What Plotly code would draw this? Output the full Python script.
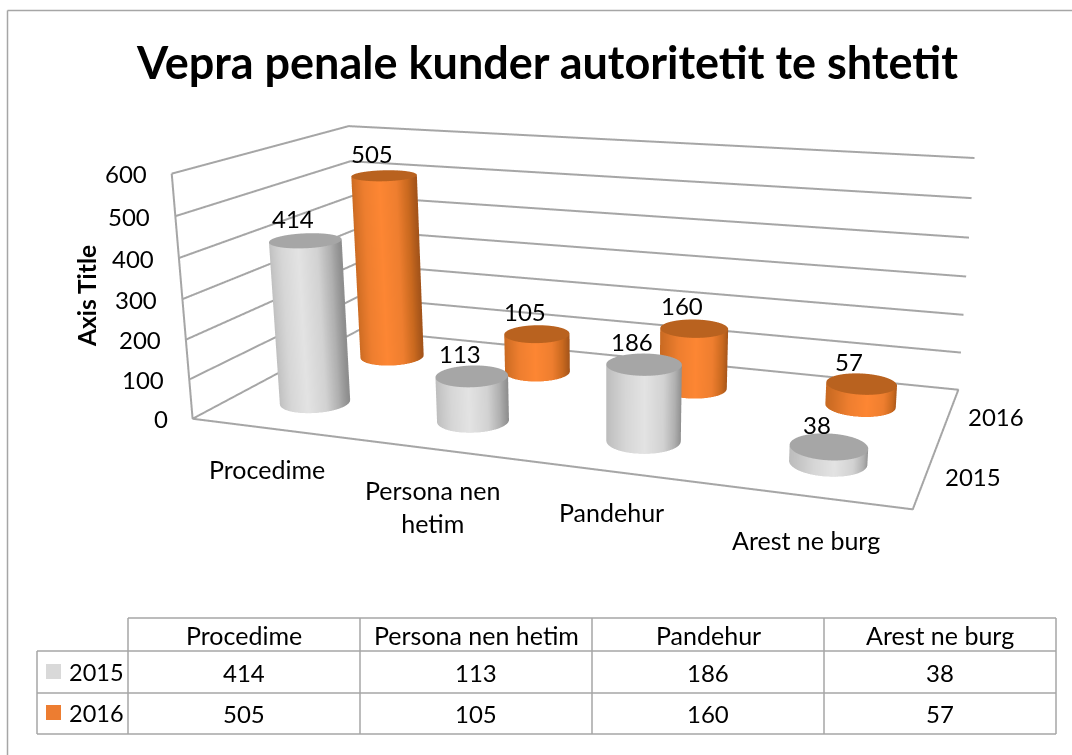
import numpy as np
import plotly.graph_objects as go

CATEGORIES = ["Procedime", "Persona nen hetim", "Pandehur", "Arest ne burg"]
AXIS_LABELS = ["Procedime", "Persona nen<br>hetim", "Pandehur", "Arest ne burg"]
SERIES = ["2015", "2016"]
VALUES_2015 = [414, 113, 186, 38]
VALUES_2016 = [505, 105, 160, 57]
Z_TICKS = [0, 100, 200, 300, 400, 500, 600]
TITLE = "Vepra penale kunder autoritetit te shtetit"
AXIS_TITLE = "Axis Title"

# Camera of the 3D scene. Plotly's field of view is fixed, so the long focal length of
# the original needs a tall figure, moved up in the page so that only the chart shows.
EYE = (0.6903, -1.8881, 0.5065)
CENTER = (0.0473, -0.0233, -0.0721)
UP = (-0.0017, -0.0019, 1)
ASPECT = (1, 0.4830, 0.3462)
FIG_W, FIG_H, SHIFT = 1072, 1216, 264
SCENE_CX = 612.47

GRID = "#a6a6a6"
LABEL_Y_SHIFT = [-40, -57, -40, -44]
GRAY = [[0, "#bdbdbd"], [0.25, "#d6d6d6"], [0.5, "#e3e3e3"], [0.75, "#d2d2d2"], [0.9, "#b0b0b0"], [1, "#8e8e8e"]]
ORNG = [[0, "#c96a22"], [0.25, "#ee7e2f"], [0.5, "#fd8633"], [0.75, "#ee7e2f"], [0.9, "#c9691f"], [1, "#a4541a"]]


def px(x):
    return x / FIG_W


def py(y):
    return 1 - (y + SHIFT) / FIG_H


half = min(SCENE_CX, FIG_W - SCENE_CX)
dom_x = [(SCENE_CX - half) / FIG_W, (SCENE_CX + half) / FIG_W]

fig = go.Figure()
theta = np.linspace(0, 2 * np.pi, 181)
RX = 0.2
RY = RX * (ASPECT[0] / 4) / (ASPECT[1] / 2)
view = np.array([CENTER[0] - EYE[0], CENTER[1] - EYE[1]])
right = np.array([view[1], -view[0]]) / np.linalg.norm(view)
light = dict(ambient=1, diffuse=0, specular=0, roughness=1, fresnel=0)


def cylinder(cx, cy, h, scale, cap):
    X = np.outer(cx + RX * np.cos(theta), [1, 1])
    Y = np.outer(cy + RY * np.sin(theta), [1, 1])
    Z = np.outer(np.ones_like(theta), [0, h])
    C = np.outer(np.cos(theta) * right[0] + np.sin(theta) * right[1], [1, 1])
    fig.add_trace(go.Surface(x=X, y=Y, z=Z, surfacecolor=C, colorscale=scale, cmin=-1, cmax=1,
                             showscale=False, lighting=light, hoverinfo="skip"))
    rr = np.array([0, 1.0])
    X2 = cx + RX * np.outer(np.cos(theta), rr)
    Y2 = cy + RY * np.outer(np.sin(theta), rr)
    fig.add_trace(go.Surface(x=X2, y=Y2, z=np.full_like(X2, h), surfacecolor=np.zeros_like(X2),
                             colorscale=[[0, cap], [1, cap]], cmin=0, cmax=1,
                             showscale=False, lighting=light, hoverinfo="skip"))


annos = []
for j, (vals, scale, cap) in enumerate([(VALUES_2015, GRAY, "#a6a6a6"), (VALUES_2016, ORNG, "#b9621f")]):
    for i, v in enumerate(vals):
        cylinder(i + 0.5, j + 0.5, v, scale, cap)
        annos.append(dict(x=i + 0.5, y=j + 0.5, z=v, text=str(v), showarrow=False,
                          xshift=-12, yshift=22.5, font=dict(size=24)))
for t in Z_TICKS:
    annos.append(dict(x=0, y=0, z=t, text=str(t), showarrow=False, xanchor="right", xshift=-23, font=dict(size=24)))
for i, c in enumerate(AXIS_LABELS):
    annos.append(dict(x=i + 0.5, y=0, z=0, text=c, showarrow=False, xshift=-3,
                      yshift=LABEL_Y_SHIFT[i], font=dict(size=25)))
for j, s in enumerate(SERIES):
    annos.append(dict(x=4, y=j + 0.5, z=0, text=s, showarrow=False, xshift=47, yshift=-2, font=dict(size=24)))


def line3d(ex, ey, ez):
    fig.add_trace(go.Scatter3d(x=ex, y=ey, z=ez, mode="lines", line=dict(color=GRID, width=4),
                               hoverinfo="skip", showlegend=False))


line3d([0, 4, 4, 0, 0, 0], [0, 0, 2, 2, 0, 0], [0, 0, 0, 0, 0, Z_TICKS[-1]])
for t in Z_TICKS[1:]:
    line3d([0, 0, 4], [0, 2, 2], [t, t, t])

shapes = []


def line(x0, y0, x1, y1):
    shapes.append(dict(type="line", xref="paper", yref="paper", x0=px(x0), y0=py(y0), x1=px(x1), y1=py(y1),
                       line=dict(color=GRID, width=1.5)))


line(7.5, 10.5, 1072, 10.5)
line(7.5, 10.5, 7.5, 755)
cols = [128, 360, 592, 824, 1056]
rows = [618, 651, 693, 734]
for x in cols:
    line(x, 618, x, 734)
for y in rows:
    line(128 if y == 618 else 37, y, 1056, y)
line(37, 651, 37, 734)

pa = []


def text(x, y, t, size=24, xanchor="center", **kw):
    pa.append(dict(xref="paper", yref="paper", x=px(x), y=py(y), text=t, showarrow=False,
                   font=dict(size=size), xanchor=xanchor, yanchor="middle", **kw))


for i, c in enumerate(CATEGORIES):
    xc = (cols[i] + cols[i + 1]) / 2
    text(xc, 635, c, size=25)
    text(xc, 672, str(VALUES_2015[i]))
    text(xc, 713, str(VALUES_2016[i]))
for s, y, col in [(SERIES[0], 672, "#d9d9d9"), (SERIES[1], 713, "#ed7d31")]:
    shapes.append(dict(type="rect", xref="paper", yref="paper", x0=px(46), x1=px(61), y0=py(y - 8), y1=py(y + 7),
                       fillcolor=col, line=dict(width=0)))
    text(67, y, s, xanchor="left", size=23.5)
text(547, 62, "<b>%s</b>" % TITLE, size=45)
text(86, 296, "<b>%s</b>" % AXIS_TITLE, size=24.5, textangle=-90)

ax = {"visible": False}
fig.update_layout(
    width=FIG_W, height=FIG_H, margin=dict(l=0, r=0, t=0, b=0), paper_bgcolor="white",
    font=dict(family="Lato", color="black"), showlegend=False, shapes=shapes, annotations=pa,
    scene=dict(
        domain=dict(x=dom_x, y=[0, 1]), aspectmode="manual",
        aspectratio=dict(x=ASPECT[0], y=ASPECT[1], z=ASPECT[2]),
        camera=dict(eye=dict(x=EYE[0], y=EYE[1], z=EYE[2]), center=dict(x=CENTER[0], y=CENTER[1], z=CENTER[2]),
                    up=dict(x=UP[0], y=UP[1], z=UP[2]), projection=dict(type="perspective")),
        xaxis={**ax, "range": [0, 4]}, yaxis={**ax, "range": [0, 2]}, zaxis={**ax, "range": [0, 600]},
        annotations=annos))
post = ("document.documentElement.style.overflow='hidden';document.body.style.margin='0';"
        "document.body.style.overflow='hidden';var g=document.querySelector('.plotly-graph-div');"
        "g.style.position='absolute';g.style.left='0';g.style.top='%dpx';" % (-SHIFT))
fig.write_html("out.html", config=dict(displayModeBar=False), post_script=post)
